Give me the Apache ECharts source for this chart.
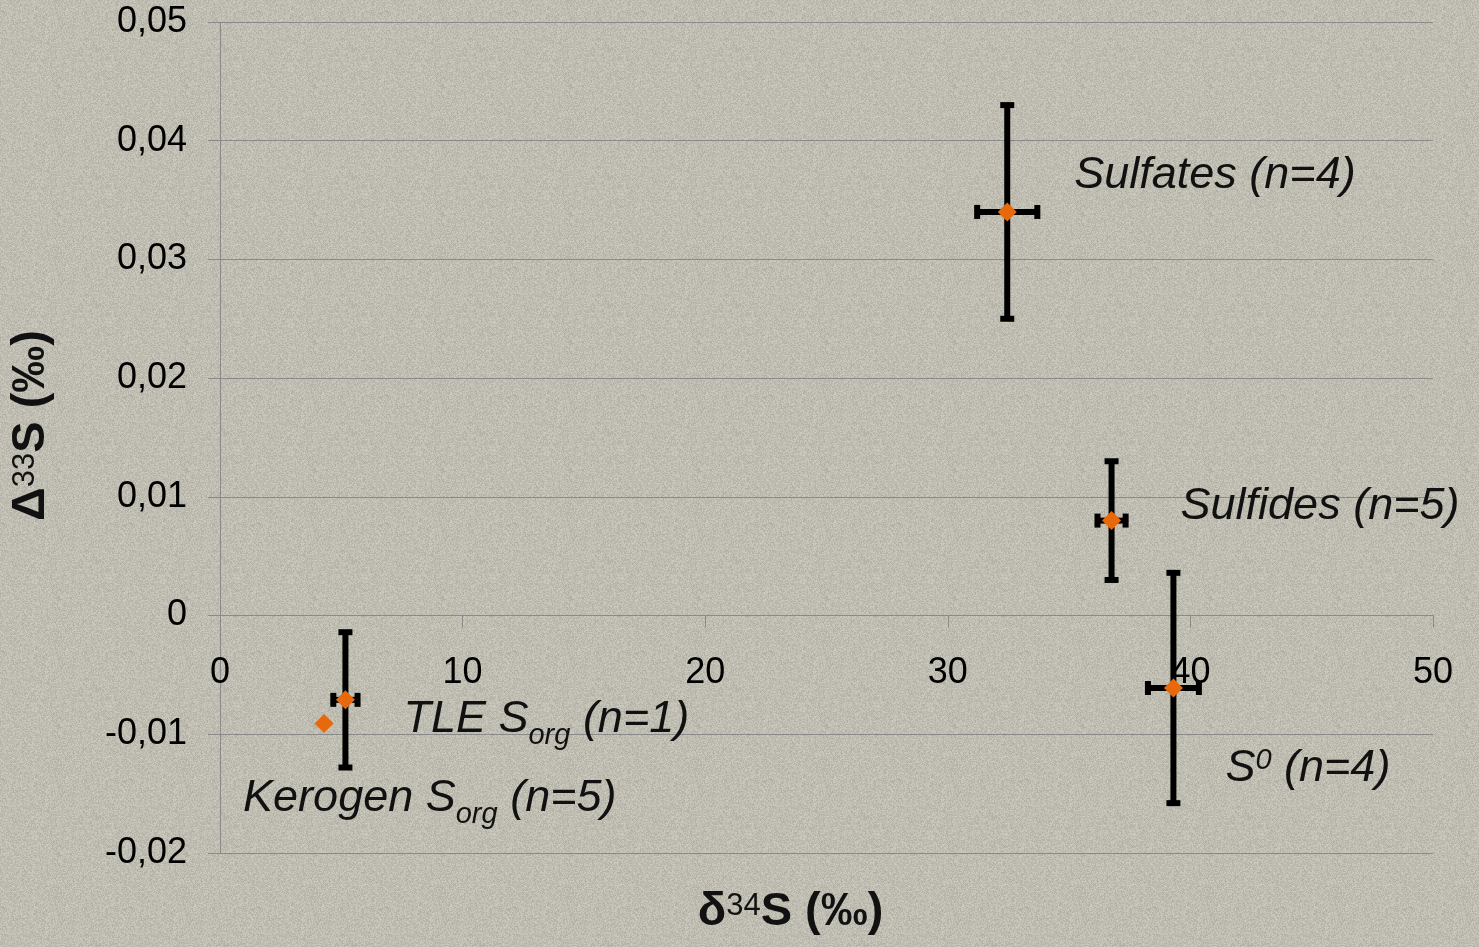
<!DOCTYPE html>
<html>
<head>
<meta charset="utf-8">
<title>D33S vs d34S</title>
<script src="https://cdn.jsdelivr.net/npm/echarts@6/dist/echarts.min.js"></script>
<style>
  html, body { margin: 0; padding: 0; }
  #chart { width: 1479px; height: 947px; }
</style>
</head>
<body>
<div id="chart"></div>
<script>
// groupes mesurés
const groups = ['Sulfates', 'Sulfides', 'S0', 'TLE Sorg', 'Kerogen Sorg']
// étiquettes (texte riche : indices / exposants)
const groupLabels = [
  '{m|Sulfates (n=4)}',
  '{m|Sulfides (n=5)}',
  '{m|S}{sup|0}{m| (n=4)}',
  '{m|TLE S}{sub|org}{m| (n=1)}',
  '{m|Kerogen S}{sub|org}{m| (n=5)}'
]
const d34S = [32.45, 36.75, 39.3, 5.17, 4.29]
const D33S = [0.034, 0.008, -0.0061, -0.0071, -0.0091]
const d34SErr = [1.24, 0.58, 1.05, 0.5, 0]
const D33SErr = [0.009, 0.005, 0.0097, 0.0057, 0]

const xTicks = ['0', '10', '20', '30', '40', '50']
const yTicks = ['-0,02', '-0,01', '0', '0,01', '0,02', '0,03', '0,04', '0,05']

// décalage des étiquettes par rapport au point (px)
const labelOffsets = [[67, -59], [69, -37], [52, 58], [58, -3], [-81, 52]]

const chart = echarts.init(document.getElementById('chart'))

// fond texturé (bruit pseudo-aléatoire déterministe)
const makeTexture = () => {
  const c = document.createElement('canvas')
  c.width = 128
  c.height = 128
  const ctx = c.getContext('2d')
  const img = ctx.createImageData(128, 128)
  let seed = 12345
  for (let i = 0; i < 128 * 128; i++) {
    seed = (seed * 1103515245 + 12345) & 0x7fffffff
    const n = (seed % 29) - 14
    img.data[i * 4] = 191 + n
    img.data[i * 4 + 1] = 189 + n
    img.data[i * 4 + 2] = 177 + n
    img.data[i * 4 + 3] = 255
  }
  ctx.putImageData(img, 0, 0)
  return c
}

const points = groups.map((g, i) => ({
  name: g,
  value: [d34S[i], D33S[i]],
  label: {
    show: true,
    position: 'inside',
    align: 'left',
    verticalAlign: 'top',
    offset: labelOffsets[i],
    formatter: groupLabels[i]
  }
}))

const font = 'Liberation Sans, Arial, sans-serif'
const labelRich = {
  m: { fontSize: 45, lineHeight: 52, verticalAlign: 'top', fontStyle: 'italic', color: '#111', fontFamily: font },
  sub: { fontSize: 29, lineHeight: 29, verticalAlign: 'top', padding: [25, 0, 0, 0], fontStyle: 'italic', color: '#111', fontFamily: font },
  sup: { fontSize: 29, lineHeight: 29, verticalAlign: 'top', fontStyle: 'italic', color: '#111', fontFamily: font }
}

const nameRich = {
  b: { fontSize: 47, fontWeight: 'bold', color: '#111', lineHeight: 52, verticalAlign: 'top', fontFamily: font },
  s: { fontSize: 31, fontWeight: 'normal', color: '#111', lineHeight: 32, verticalAlign: 'top', padding: [2, 0, 0, 0], fontFamily: font }
}

const errorBars = (params, api) => {
  const x = api.value(0), y = api.value(1)
  const ex = api.value(2), ey = api.value(3)
  const style = { stroke: '#000', lineWidth: 6 }
  const children = []
  const cap = 7
  if (ey > 0) {
    const top = api.coord([x, y + ey])
    const bot = api.coord([x, y - ey])
    children.push({ type: 'line', shape: { x1: top[0], y1: top[1], x2: bot[0], y2: bot[1] }, style })
    children.push({ type: 'line', shape: { x1: top[0] - cap, y1: top[1], x2: top[0] + cap, y2: top[1] }, style })
    children.push({ type: 'line', shape: { x1: bot[0] - cap, y1: bot[1], x2: bot[0] + cap, y2: bot[1] }, style })
  }
  if (ex > 0) {
    const l = api.coord([x - ex, y])
    const r = api.coord([x + ex, y])
    children.push({ type: 'line', shape: { x1: l[0], y1: l[1], x2: r[0], y2: r[1] }, style })
    children.push({ type: 'line', shape: { x1: l[0], y1: l[1] - cap, x2: l[0], y2: l[1] + cap }, style })
    children.push({ type: 'line', shape: { x1: r[0], y1: r[1] - cap, x2: r[0], y2: r[1] + cap }, style })
  }
  return { type: 'group', children }
}

const axisColor = '#8a8a8a'

chart.setOption({
  backgroundColor: { image: makeTexture(), repeat: 'repeat' },
  animation: false,
  textStyle: { fontFamily: font },
  grid: { left: 220, right: 46, top: 22, bottom: 94, containLabel: false, outerBoundsMode: 'none' },
  xAxis: {
    type: 'value',
    min: 0,
    max: 50,
    interval: 10,
    name: '{b|δ}{s|34}{b|S (‰)}',
    nameLocation: 'middle',
    nameGap: 36,
    nameTextStyle: { rich: nameRich, padding: [0, 72, 0, 0] },
    axisLine: { show: true, onZero: true, lineStyle: { color: axisColor, width: 1 } },
    axisTick: { show: true, inside: false, length: 12, lineStyle: { color: axisColor } },
    axisLabel: {
      margin: -198,
      fontSize: 36,
      color: '#000',
      formatter: (v) => xTicks[Math.round(v / 10)]
    },
    splitLine: { show: false }
  },
  yAxis: {
    type: 'value',
    min: -0.02,
    max: 0.05,
    interval: 0.01,
    name: '{b|Δ}{s|33}{b|S (‰)}',
    nameLocation: 'middle',
    nameGap: 160,
    nameTextStyle: { rich: nameRich, padding: [0, 0, 0, 24] },
    axisLine: { show: true, lineStyle: { color: axisColor, width: 1 } },
    axisTick: { show: true, inside: false, length: 12, lineStyle: { color: axisColor } },
    axisLabel: {
      margin: 33,
      fontSize: 36,
      color: '#000',
      formatter: (v) => yTicks[Math.round((v + 0.02) / 0.01)]
    },
    splitLine: { show: true, lineStyle: { color: axisColor, width: 1 } }
  },
  series: [
    {
      type: 'custom',
      renderItem: errorBars,
      z: 2,
      data: groups.map((g, i) => [d34S[i], D33S[i], d34SErr[i], D33SErr[i]])
    },
    {
      type: 'scatter',
      symbol: 'diamond',
      symbolSize: 19,
      z: 3,
      itemStyle: { color: '#e8690c', opacity: 1 },
      label: { rich: labelRich, color: '#111', textBorderWidth: 0, opacity: 1 },
      emphasis: { disabled: true },
      data: points
    }
  ]
})
</script>
</body>
</html>
